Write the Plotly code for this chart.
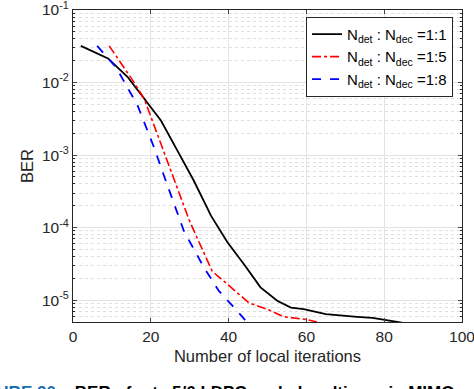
import plotly.graph_objects as go

# ---- data ----
iters_11 = [2, 5.5, 9, 14, 18.3, 22.6, 26.8, 31, 35.5, 39.7, 44, 48.2, 52.5, 56, 59.3, 65, 73, 77, 84.5]
ber_11 = [0.032, 0.0265, 0.0215, 0.012, 0.006, 0.003, 1.16e-3, 4.5e-4, 1.45e-4, 6.3e-5,
          3.1e-5, 1.5e-5, 9.8e-6, 7.9e-6, 7.5e-6, 6.4e-6, 5.9e-6, 5.7e-6, 4.9e-6]

iters_15 = [9.3, 15.3, 18.3, 22.6, 26, 29.8, 31.1, 35.8, 39.7, 45.2, 49.9, 54.2, 60.2, 62.7]
ber_15 = [0.032, 0.0108, 0.006, 1.43e-3, 4.5e-4, 1.3e-4, 9e-5, 2.5e-5, 1.66e-5, 9.2e-6,
          7.5e-6, 5.9e-6, 5.4e-6, 5e-6]

iters_18 = [6.2, 11, 16.6, 20.8, 23.8, 27.3, 28.5, 33.7, 37.5, 42.2, 44.8]
ber_18 = [0.032, 0.0164, 4.85e-3, 1.29e-3, 4.5e-4, 1.38e-4, 9e-5, 2.8e-5, 1.34e-5, 7.1e-6, 4.9e-6]

series_names = ["N<sub>det</sub> : N<sub>dec</sub> =1:1",
                "N<sub>det</sub> : N<sub>dec</sub> =1:5",
                "N<sub>det</sub> : N<sub>dec</sub> =1:8"]

x_ticks = [0, 20, 40, 60, 80, 100]
y_ticks = [1e-5, 1e-4, 1e-3, 1e-2, 1e-1]
y_ticktext = ["10<sup>-5</sup>", "10<sup>-4</sup>", "10<sup>-3</sup>", "10<sup>-2</sup>", "10<sup>-1</sup>"]

caption = ("<b><span style='color:#1a6fb0'>FIGURE 20.</span>&nbsp;&nbsp;&nbsp;"
           "BER of rate 5/6 LDPC-coded multiuser in MIMO</b>")

FONT = "Liberation Sans, Arial, sans-serif"
AX = "#262626"

fig = go.Figure()
fig.add_trace(go.Scatter(x=iters_11, y=ber_11, mode="lines", name=series_names[0],
                         line=dict(color="black", width=1.8, dash="solid")))
fig.add_trace(go.Scatter(x=iters_15, y=ber_15, mode="lines", name=series_names[1],
                         line=dict(color="#ff0000", width=1.6, dash="dashdot")))
fig.add_trace(go.Scatter(x=iters_18, y=ber_18, mode="lines", name=series_names[2],
                         line=dict(color="#0000ff", width=1.8, dash="dash")))

fig.update_layout(
    width=474, height=389,
    margin=dict(l=73, r=12, t=10, b=67),
    paper_bgcolor="white", plot_bgcolor="white",
    font=dict(family=FONT, size=15, color=AX),
    legend=dict(x=0.977, y=0.978, xanchor="right", yanchor="top",
                bgcolor="white", bordercolor=AX, borderwidth=1,
                font=dict(size=15, color="black"),
                tracegroupgap=0, itemwidth=30),
    xaxis=dict(range=[0, 100], tickvals=x_ticks, ticks="inside", ticklen=4,
               showline=True, linecolor=AX, linewidth=1, mirror="ticks",
               showgrid=True, gridcolor="#e3e3e3", gridwidth=1, zeroline=False,
               ticklabeloverflow="allow", automargin=False,
               title=dict(text="Number of local iterations", standoff=6,
                          font=dict(size=16.5, color=AX)),
               tickfont=dict(size=15.5, color=AX)),
    yaxis=dict(type="log", range=[-5.301, -1], tickvals=y_ticks, ticktext=y_ticktext,
               ticks="inside", ticklen=4,
               showline=True, linecolor=AX, linewidth=1, mirror="ticks",
               showgrid=True, gridcolor="#e3e3e3", gridwidth=1, zeroline=False,
               ticklabeloverflow="allow", automargin=False,
               title=dict(text="BER", standoff=4, font=dict(size=16.5, color=AX)),
               tickfont=dict(size=15.5, color=AX),
               minor=dict(tickmode="linear", tick0=0, dtick="D1", ticks="inside", ticklen=2,
                          tickcolor=AX, showgrid=True, gridcolor="#dedede",
                          griddash="dot", gridwidth=1)),
    showlegend=True,
)

fig.add_annotation(text=caption, xref="paper", yref="paper", x=-0.275, y=-0.188,
                   xanchor="left", yanchor="top", showarrow=False,
                   font=dict(family=FONT, size=17, color="black"))

fig.write_html("out.html", config={"displayModeBar": False},
               post_script="document.body.style.margin='0';document.body.style.overflow='hidden';")
